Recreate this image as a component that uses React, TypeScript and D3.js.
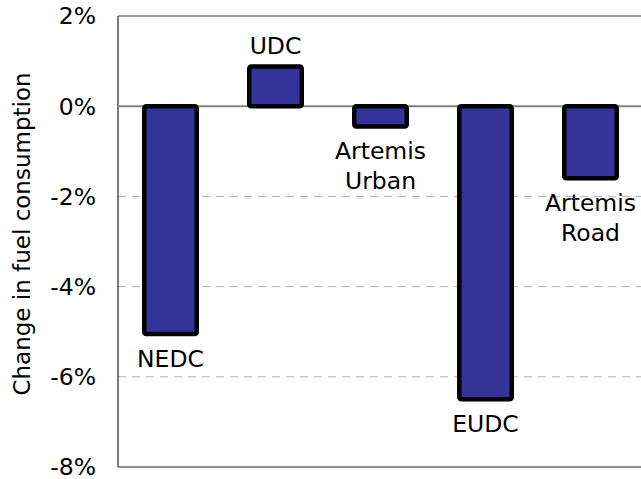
import React from "react";
import * as d3 from "d3";

const categories = ["NEDC", "UDC", "Artemis Urban", "EUDC", "Artemis Road"];
const labelLines = [["NEDC"], ["UDC"], ["Artemis", "Urban"], ["EUDC"], ["Artemis", "Road"]];
const values = [-5.05, 0.88, -0.45, -6.5, -1.6];
const yTicks = [2, 0, -2, -4, -6, -8];

const W = 641, H = 479;
const left = 118, right = 643, top = 16, bottom = 467;
const FONT = "'DejaVu Sans', Verdana, sans-serif";
const FS = 23.5;

export default function App() {
  const x = d3.scaleBand<string>().domain(categories).range([left, right]).paddingInner(0.5).paddingOuter(0.25);
  const y = d3.scaleLinear().domain([-8, 2]).range([bottom, top]);
  const y0 = y(0);
  return (
    <svg width={W} height={H} style={{ position: "absolute", left: 0, top: 0 }} fontFamily={FONT}>
      <rect x={0} y={0} width={W} height={H} fill="#fff" />
      {yTicks.filter(t => t < 0 && t > -8).map(t => (
        <line key={t} x1={left} x2={W} y1={y(t)} y2={y(t)} stroke="#b0b0b0" strokeWidth={1} strokeDasharray="8,6" />
      ))}
      <line x1={left} x2={W} y1={y(2)} y2={y(2)} stroke="#404040" strokeWidth={1.2} />
      <line x1={left} x2={W} y1={bottom} y2={bottom} stroke="#222" strokeWidth={1.2} />
      <line x1={left} x2={left} y1={top} y2={bottom} stroke="#222" strokeWidth={1.2} />
      <line x1={left} x2={W} y1={y0} y2={y0} stroke="#808080" strokeWidth={2} />
      {yTicks.map(t => (
        <text key={t} x={96} y={y(t)} dy="0.36em" textAnchor="end" fontSize={FS} fill="#000">{`${t}%`}</text>
      ))}
      <text transform={`translate(30,234) rotate(-90)`} textAnchor="middle" fontSize={23} fill="#000">
        Change in fuel consumption
      </text>
      {categories.map((c, i) => {
        const v = values[i];
        const bx = x(c)!;
        const bw = x.bandwidth();
        const y1 = y(Math.max(0, v));
        const y2 = y(Math.min(0, v));
        const cx = bx + bw / 2;
        const lines = labelLines[i];
        return (
          <g key={c}>
            <rect x={bx} y={y1} width={bw} height={y2 - y1} fill="#333399" stroke="#000" strokeWidth={4.5} rx={2} />
            {v >= 0 ? (
              <text x={cx} y={y1 - 13} textAnchor="middle" fontSize={FS} fill="#000">{lines[0]}</text>
            ) : (
              lines.map((l, k) => (
                <text key={k} x={cx} y={y2 + 33 + k * 30} textAnchor="middle" fontSize={FS} fill="#000">{l}</text>
              ))
            )}
          </g>
        );
      })}
    </svg>
  );
}
